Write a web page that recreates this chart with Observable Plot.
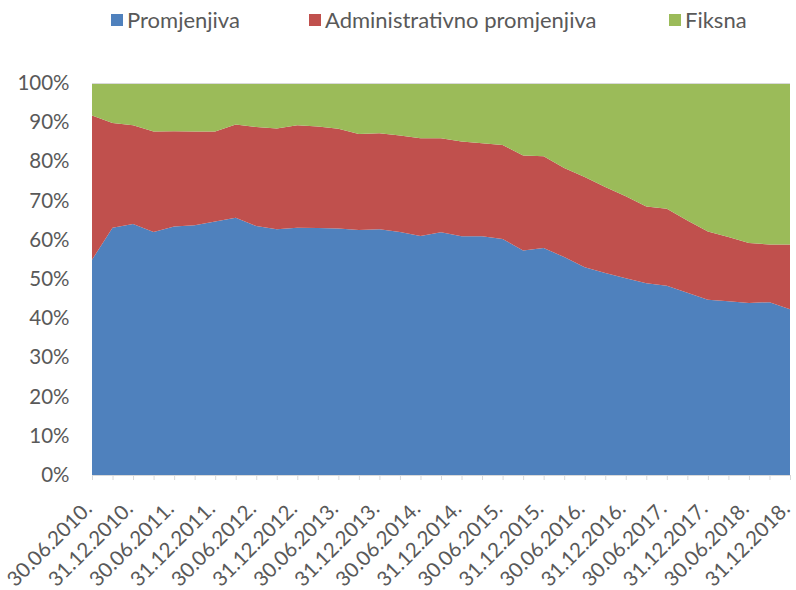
<!DOCTYPE html>
<html><head><meta charset="utf-8">
<script src="https://cdn.jsdelivr.net/npm/d3@7"></script>
<script src="https://cdn.jsdelivr.net/npm/@observablehq/plot@0.6"></script>
<style>
body{margin:0;background:#fff;font-family:Lato,"DejaVu Sans Condensed",sans-serif;}
#legend{position:relative;height:45px;width:796px;font-size:22px;color:#595959;}
.item{position:absolute;top:6px;display:flex;align-items:center;white-space:nowrap;line-height:28px;}
.sw{width:12px;height:12px;margin-right:4px;}
</style></head><body>
<div id="legend"></div>
<div id="chart"></div>
<script>
const series = ["Promjenjiva", "Administrativno promjenjiva", "Fiksna"];
const colors = ["#4F81BD", "#C0504D", "#9BBB59"];
const legendX = [111, 309, 669];

const dates = [
  "30.06.2010.","30.09.2010.","31.12.2010.","31.03.2011.","30.06.2011.","30.09.2011.","31.12.2011.",
  "31.03.2012.","30.06.2012.","30.09.2012.","31.12.2012.","31.03.2013.","30.06.2013.","30.09.2013.","31.12.2013.",
  "31.03.2014.","30.06.2014.","30.09.2014.","31.12.2014.","31.03.2015.","30.06.2015.","30.09.2015.","31.12.2015.",
  "31.03.2016.","30.06.2016.","30.09.2016.","31.12.2016.","31.03.2017.","30.06.2017.","30.09.2017.","31.12.2017.",
  "31.03.2018.","30.06.2018.","30.09.2018.","31.12.2018."
];

const promjenjiva = [54.9,63.1,64.0,62.0,63.4,63.7,64.7,65.6,63.5,62.7,63.1,63.0,62.9,62.5,62.7,62.0,61.0,61.9,60.9,60.9,60.2,57.3,57.9,55.6,53.0,51.5,50.2,48.9,48.3,46.5,44.7,44.3,43.9,44.1,42.3];
const administrativno = [36.8,26.7,25.2,25.6,24.3,23.9,22.9,23.8,25.3,25.7,26.1,25.9,25.4,24.5,24.5,24.6,24.9,24.0,24.2,23.7,24.0,24.2,23.4,22.7,23.0,22.0,20.9,19.6,19.6,18.4,17.4,16.4,15.3,14.7,16.5];
const fiksna = [8.3,10.2,10.8,12.4,12.3,12.4,12.4,10.6,11.2,11.6,10.8,11.1,11.7,13.0,12.8,13.4,14.1,14.1,14.9,15.4,15.8,18.5,18.7,21.7,24.0,26.5,28.9,31.5,32.1,35.1,37.9,39.3,40.8,41.2,41.2];

const yTicks = [0,10,20,30,40,50,60,70,80,90,100];

// legend
const leg = document.getElementById("legend");
series.forEach((s, k) => {
  const it = document.createElement("div");
  it.className = "item";
  it.style.left = legendX[k] + "px";
  const sw = document.createElement("span");
  sw.className = "sw";
  sw.style.background = colors[k];
  const t = document.createElement("span");
  t.textContent = s;
  it.appendChild(sw); it.appendChild(t);
  leg.appendChild(it);
});

const cols = [promjenjiva, administrativno, fiksna];
const data = [];
series.forEach((s, k) => cols[k].forEach((v, i) => data.push({i, s, v})));

const idx = dates.map((d, i) => i);
const labelIdx = idx.filter(i => i % 2 === 0);

const chart = Plot.plot({
  width: 796,
  height: 545,
  marginLeft: 92,
  marginRight: 6,
  marginTop: 38,
  marginBottom: 115,
  style: {fontFamily: 'Lato,"DejaVu Sans Condensed",sans-serif', fontSize: "20px", color: "#595959", background: "#fff"},
  x: {type: "linear", domain: [0, dates.length - 1], axis: null},
  y: {domain: [0, 100], axis: null},
  color: {domain: series, range: colors},
  marks: [
    Plot.areaY(data, {x: "i", y: "v", fill: "s", order: series}),
    Plot.ruleY([100], {stroke: "#d9d9d9"}),
    Plot.ruleY([0], {stroke: "#d9d9d9"}),
    Plot.axisX(idx, {tickSize: 5, tickFormat: () => "", stroke: "#d9d9d9", label: null}),
    Plot.axisX(labelIdx, {tickSize: 0, tickPadding: 30, dx: -4, tickRotate: -45, tickFormat: i => dates[i], fill: "#595959", fontSize: 20.5, label: null}),
    Plot.axisY(yTicks, {tickSize: 0, tickPadding: 23, tickFormat: d => d + "%", fill: "#595959", fontSize: 20.5, label: null})
  ]
});
document.getElementById("chart").appendChild(chart);
</script>
</body></html>
